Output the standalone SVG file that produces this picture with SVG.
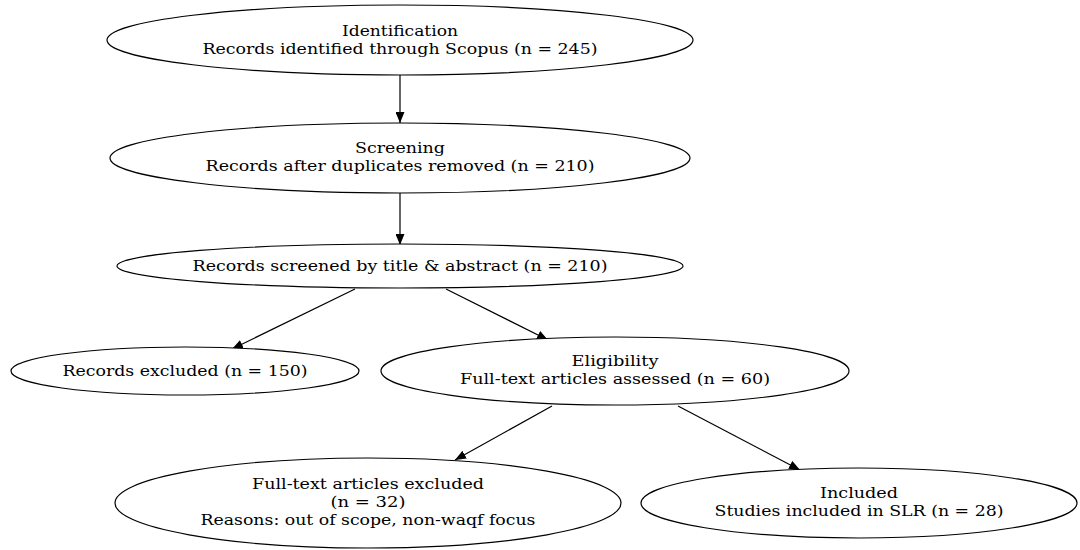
<svg xmlns="http://www.w3.org/2000/svg" width="1080" height="550" viewBox="0 0 1080 550">
<style>
.n ellipse{fill:#fff;stroke:#000;stroke-width:1.2}
text{font-family:"DejaVu Serif Condensed","DejaVu Serif",serif;font-size:15.5px;text-anchor:middle;fill:#000}
.e line{stroke:#000;stroke-width:1.2}
</style>
<defs><marker id="ah" markerWidth="11" markerHeight="9" refX="11" refY="4.5" orient="auto" markerUnits="userSpaceOnUse"><path d="M0,0 L11,4.5 L0,9 Z" fill="#000"/></marker></defs>
<rect width="1080" height="550" fill="#fff"/>
<g class="e">
<line x1="400" y1="75" x2="400" y2="123" marker-end="url(#ah)"/>
<line x1="400" y1="193" x2="400" y2="245" marker-end="url(#ah)"/>
<line x1="355" y1="289" x2="232" y2="349" marker-end="url(#ah)"/>
<line x1="446" y1="289" x2="548" y2="340" marker-end="url(#ah)"/>
<line x1="552" y1="406" x2="455" y2="460" marker-end="url(#ah)"/>
<line x1="678" y1="406" x2="800" y2="470" marker-end="url(#ah)"/>
</g>
<g id="identification" class="n"><ellipse cx="400" cy="40" rx="293" ry="35"/><text x="400" y="36" textLength="116" lengthAdjust="spacingAndGlyphs">Identification</text><text x="400" y="54" textLength="395" lengthAdjust="spacingAndGlyphs">Records identified through Scopus (n = 245)</text></g>
<g id="screening" class="n"><ellipse cx="400" cy="158" rx="290" ry="35"/><text x="400" y="153" textLength="90" lengthAdjust="spacingAndGlyphs">Screening</text><text x="400" y="171" textLength="389" lengthAdjust="spacingAndGlyphs">Records after duplicates removed (n = 210)</text></g>
<g id="screened" class="n"><ellipse cx="400" cy="266" rx="283" ry="22"/><text x="400" y="271" textLength="415" lengthAdjust="spacingAndGlyphs">Records screened by title &amp; abstract (n = 210)</text></g>
<g id="excluded" class="n"><ellipse cx="185" cy="371" rx="174" ry="24"/><text x="185" y="376" textLength="245" lengthAdjust="spacingAndGlyphs">Records excluded (n = 150)</text></g>
<g id="eligibility" class="n"><ellipse cx="615" cy="371" rx="234" ry="34"/><text x="615" y="366" textLength="87" lengthAdjust="spacingAndGlyphs">Eligibility</text><text x="615" y="384" textLength="310" lengthAdjust="spacingAndGlyphs">Full-text articles assessed (n = 60)</text></g>
<g id="ftexcluded" class="n"><ellipse cx="368" cy="503" rx="253" ry="45"/><text x="368" y="489" textLength="232" lengthAdjust="spacingAndGlyphs">Full-text articles excluded</text><text x="368" y="507" textLength="75" lengthAdjust="spacingAndGlyphs">(n = 32)</text><text x="368" y="525" textLength="335" lengthAdjust="spacingAndGlyphs">Reasons: out of scope, non-waqf focus</text></g>
<g id="included" class="n"><ellipse cx="859" cy="503" rx="218" ry="35"/><text x="859" y="498" textLength="78" lengthAdjust="spacingAndGlyphs">Included</text><text x="859" y="516" textLength="289" lengthAdjust="spacingAndGlyphs">Studies included in SLR (n = 28)</text></g>
</svg>
